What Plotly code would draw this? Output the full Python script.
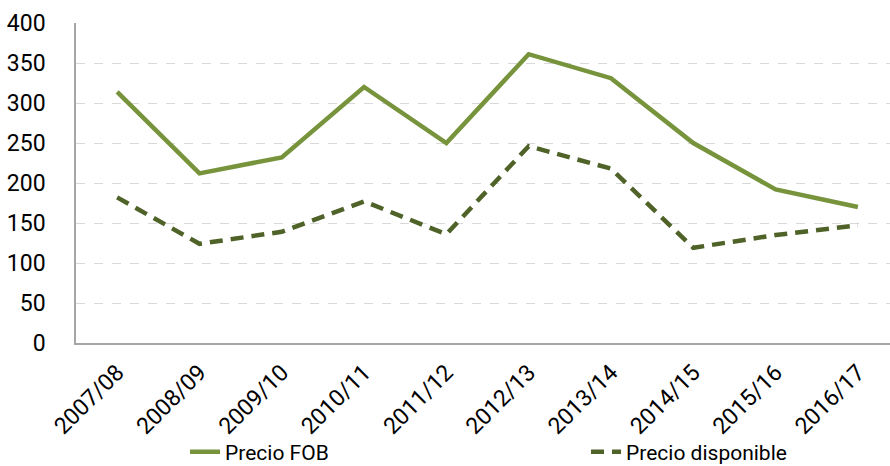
import plotly.graph_objects as go

categories = ["2007/08", "2008/09", "2009/10", "2010/11", "2011/12",
              "2012/13", "2013/14", "2014/15", "2015/16", "2016/17"]
precio_fob = [314, 212, 232, 320, 250, 361, 331, 250, 192, 170]
precio_disponible = [182, 124, 139, 177, 136, 246, 218, 119, 135, 147]
y_ticks = [0, 50, 100, 150, 200, 250, 300, 350, 400]

FONT = "Roboto, Arial, sans-serif"

fig = go.Figure()
fig.add_trace(go.Scatter(
    x=list(range(len(categories))), y=precio_fob, mode="lines", name="Precio FOB",
    line=dict(color="#77933C", width=4.5)))
fig.add_trace(go.Scatter(
    x=list(range(len(categories))), y=precio_disponible, mode="lines", name="Precio disponible",
    line=dict(color="#4F6228", width=4.5, dash="13px,8px")))

plot_w = 890 - 76
plot_h = 466 - 23 - 123
fig.update_layout(
    width=890, height=466,
    margin=dict(l=76, r=0, t=23, b=123, autoexpand=False),
    paper_bgcolor="white", plot_bgcolor="white",
    font=dict(family=FONT, size=19, color="#000000"),
    showlegend=True,
    legend=dict(orientation="h", x=(185 - 76) / plot_w, xanchor="left",
                y=-109 / plot_h, yanchor="middle",
                entrywidth=356, entrywidthmode="pixels",
                font=dict(family=FONT, size=21, color="#000000"),
                bgcolor="rgba(0,0,0,0)"),
    xaxis=dict(
        tickmode="array", tickvals=list(range(len(categories))), ticktext=categories,
        range=[-0.5, 9.39], tickangle=-45, showgrid=False, automargin=False,
        showline=True, linecolor="#A6A6A6", linewidth=1.5, ticklabelstandoff=5,
        ticks="", tickfont=dict(family=FONT, size=23), zeroline=False, fixedrange=True),
    yaxis=dict(
        range=[0, 400], tickvals=y_ticks, showline=True, linecolor="#A6A6A6", linewidth=1.5,
        gridcolor="#D9D9D9", griddash="dash", gridwidth=1.2, zeroline=False, automargin=False,
        ticks="", ticklabelstandoff=24, tickfont=dict(family=FONT, size=23), fixedrange=True),
    annotations=[dict(text="<b>USD/ TM</b>", x=(471 - 76) / plot_w, xref="paper", xanchor="center",
                      y=1 + 17 / plot_h, yref="paper", yanchor="bottom",
                      showarrow=False, font=dict(family=FONT, size=20, color="#000000"))]
)

fig.write_html("out.html", config={"displayModeBar": False},
               post_script="document.body.style.margin='0px';")
